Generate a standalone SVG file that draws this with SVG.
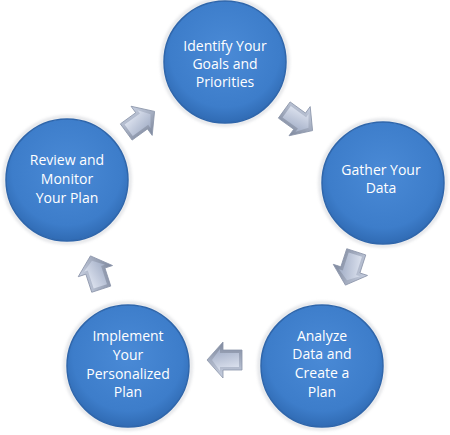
<svg xmlns="http://www.w3.org/2000/svg" width="450" height="435" viewBox="0 0 450 435">
  <style>
    .circ { fill: url(#blue); stroke: #2f66ab; stroke-width: 1.5; }
    .halo { fill: none; stroke: #b8bcc4; stroke-width: 3; opacity: 0.45; filter: url(#soft); }
    .lbl { font-family: "Open Sans", "Liberation Sans", sans-serif; font-size: 14px; fill: #ffffff; text-anchor: middle; }
  </style>
  <defs>
    <radialGradient id="blue" cx="0.5" cy="0.42" r="0.6">
      <stop offset="0" stop-color="#4a8ad6"/>
      <stop offset="0.75" stop-color="#3d7dca"/>
      <stop offset="1" stop-color="#2e68b0"/>
    </radialGradient>
    <linearGradient id="arrOuter" x1="0" y1="0" x2="0" y2="1">
      <stop offset="0" stop-color="#c9d1e2"/>
      <stop offset="1" stop-color="#7e889d"/>
    </linearGradient>
    <linearGradient id="arrInner" x1="0" y1="0" x2="0.3" y2="1">
      <stop offset="0" stop-color="#e4e9f4"/>
      <stop offset="1" stop-color="#a9b4cb"/>
    </linearGradient>
    <filter id="soft" x="-20%" y="-20%" width="140%" height="140%">
      <feGaussianBlur stdDeviation="1.5"/>
    </filter>
    <g id="arrow">
      <polygon points="-17,-10 2,-10 2,-18 18,0 2,18 2,10 -17,10" fill="url(#arrOuter)" stroke="#8b95aa" stroke-width="0.8"/>
      <polygon points="-14,-7 5,-7 5,-11 13,0 5,11 5,7 -14,7" fill="url(#arrInner)"/>
    </g>
  </defs>

  <g id="connectors">
    <use href="#arrow" transform="translate(140,122) rotate(-36)"/>
    <use href="#arrow" transform="translate(298,120) rotate(36)"/>
    <use href="#arrow" transform="translate(351,268) rotate(108)"/>
    <use href="#arrow" transform="translate(225,360) rotate(180)"/>
    <use href="#arrow" transform="translate(96,273) rotate(-108)"/>
  </g>

  <g id="node-identify">
    <circle class="halo" cx="225" cy="62" r="63"/>
    <circle class="circ" cx="225" cy="62" r="61"/>
    <text class="lbl" x="225" y="51">Identify Your</text>
    <text class="lbl" x="225" y="69">Goals and</text>
    <text class="lbl" x="225" y="87">Priorities</text>
  </g>

  <g id="node-gather">
    <circle class="halo" cx="383" cy="183" r="63"/>
    <circle class="circ" cx="383" cy="183" r="61"/>
    <text class="lbl" x="381" y="175">Gather Your</text>
    <text class="lbl" x="381" y="193">Data</text>
  </g>

  <g id="node-analyze">
    <circle class="halo" cx="322" cy="366" r="63"/>
    <circle class="circ" cx="322" cy="366" r="61"/>
    <text class="lbl" x="322" y="341">Analyze</text>
    <text class="lbl" x="322" y="359">Data and</text>
    <text class="lbl" x="322" y="378">Create a</text>
    <text class="lbl" x="322" y="397">Plan</text>
  </g>

  <g id="node-implement">
    <circle class="halo" cx="128" cy="366" r="63"/>
    <circle class="circ" cx="128" cy="366" r="61"/>
    <text class="lbl" x="128" y="341">Implement</text>
    <text class="lbl" x="128" y="360">Your</text>
    <text class="lbl" x="128" y="379">Personalized</text>
    <text class="lbl" x="128" y="397">Plan</text>
  </g>

  <g id="node-review">
    <circle class="halo" cx="67" cy="180" r="63"/>
    <circle class="circ" cx="67" cy="180" r="61"/>
    <text class="lbl" x="67" y="165">Review and</text>
    <text class="lbl" x="67" y="184">Monitor</text>
    <text class="lbl" x="67" y="203">Your Plan</text>
  </g>
</svg>
